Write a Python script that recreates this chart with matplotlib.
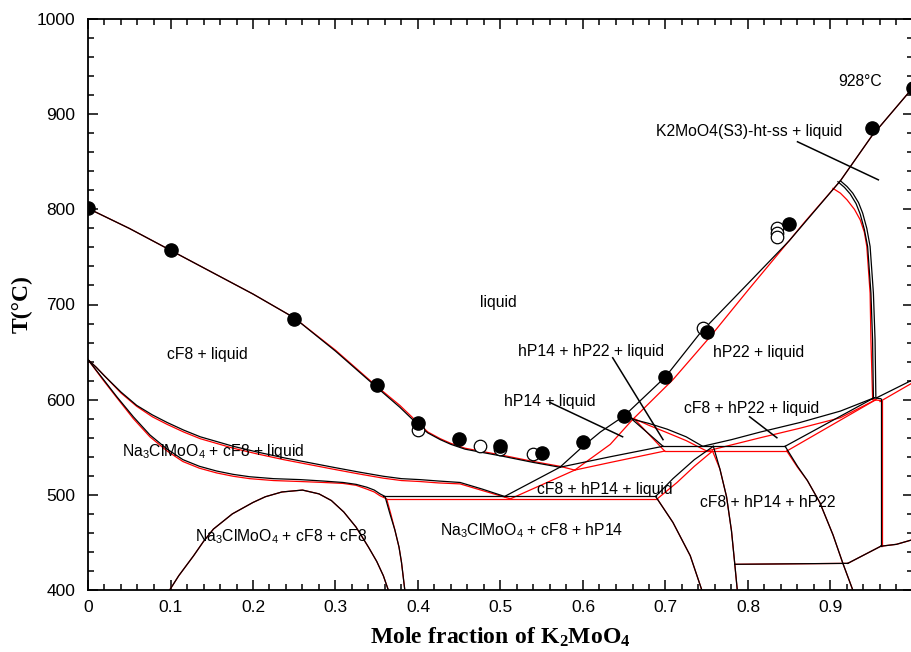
import matplotlib
matplotlib.use("Agg")
import matplotlib.pyplot as plt
from matplotlib.ticker import MultipleLocator, FixedLocator, FixedFormatter

plt.rcParams["font.family"] = ["Liberation Sans", "DejaVu Sans"]
plt.rcParams["mathtext.fontset"] = "custom"
plt.rcParams["mathtext.rm"] = "Liberation Sans"
plt.rcParams["mathtext.it"] = "Liberation Sans:italic"
plt.rcParams["mathtext.bf"] = "Liberation Serif:bold"

# ---- experimental points: mole fraction K2MoO4, temperature (°C) ----
filled_x = [0.0, 0.1, 0.25, 0.35, 0.40, 0.45, 0.50, 0.55, 0.60, 0.65, 0.70, 0.75, 0.85, 0.95, 1.0]
filled_t = [801, 757, 685, 615, 575, 559, 551, 544, 555, 583, 624, 671, 785, 885, 928]
open_x = [0.40, 0.475, 0.50, 0.54, 0.745, 0.835, 0.835, 0.835]
open_t = [568, 551, 548, 543, 675, 780, 775, 771]

# ---- calculated phase boundaries, model 1 (black) ----
blk_liq_cf8 = [(0, 801), (0.05, 780), (0.1, 757), (0.15, 734), (0.2, 711), (0.25, 686), (0.3, 651),
               (0.35, 613), (0.378, 592), (0.39, 582), (0.402, 572), (0.412, 565), (0.427, 558),
               (0.44, 553), (0.457, 548), (0.475, 545), (0.5, 541), (0.54, 534), (0.572, 529)]
blk_upper = [(0, 642), (0.01, 634), (0.02, 625), (0.04, 608), (0.059, 594), (0.078, 584), (0.096, 576),
             (0.116, 568), (0.136, 561), (0.156, 556), (0.176, 551), (0.205, 545), (0.237, 539),
             (0.267, 534), (0.297, 529), (0.328, 524), (0.358, 519.5), (0.38, 517), (0.402, 516),
             (0.425, 514.5), (0.451, 513), (0.478, 506), (0.505, 498.3)]
blk_lower = [(0, 642), (0.018, 622), (0.035, 603), (0.055, 582), (0.075, 563), (0.096, 548),
             (0.115, 537), (0.135, 530), (0.156, 525), (0.176, 521.5), (0.196, 519), (0.225, 517),
             (0.257, 516), (0.285, 514.5), (0.309, 513), (0.325, 511), (0.338, 508), (0.347, 505),
             (0.354, 501), (0.36, 498.3), (0.366, 480), (0.372, 463), (0.377, 445), (0.38, 429),
             (0.384, 400)]
blk_eut = [(0.358, 498.3), (0.688, 498.3)]
blk_eut_liq = [(0.505, 498.3), (0.572, 529)]
blk_liq_hp = [(0.572, 529), (0.6, 551), (0.621, 566), (0.65, 583), (0.7, 624), (0.742, 670),
              (0.8, 722), (0.85, 767), (0.912, 830), (0.95, 877), (1.0, 928)]
blk_hp14_hp22 = [(0.652, 585), (0.662, 579), (0.68, 575), (0.702, 569), (0.725, 561), (0.745, 551)]
blk_hp_tie = [(0.652, 585), (0.697, 551)]
blk_cf8_hp14_liq = [(0.572, 529), (0.633, 540), (0.697, 551)]
blk_perit = [(0.697, 551), (0.845, 551)]
blk_hp14_low = [(0.688, 498.3), (0.709, 517), (0.735, 537), (0.758, 551)]
blk_hp14_hp22_low = [(0.758, 551), (0.766, 527), (0.774, 498), (0.78, 462), (0.784, 427), (0.787, 400)]
blk_hp22_up = [(0.745, 551), (0.78, 558), (0.815, 566), (0.863, 576), (0.912, 588), (0.953, 602)]
blk_hp22_low = [(0.845, 551), (0.953, 602)]
blk_ss_right = [(0.956, 602), (1.0, 621)]
blk_ss_a = [(0.912, 830), (0.92, 824), (0.927, 817), (0.934, 807), (0.939, 796), (0.944, 780),
            (0.948, 761), (0.952, 712), (0.954, 663), (0.955, 602)]
blk_ss_b = [(0.909, 829), (0.917, 823), (0.924, 816), (0.931, 806), (0.936, 795), (0.941, 779),
            (0.945, 761), (0.949, 712), (0.951, 663), (0.952, 602)]
blk_ss_join = [(0.952, 602), (0.961, 601)]
blk_ss_vert = [(0.961, 601), (0.961, 446)]
blk_cf8_hp22 = [(0.845, 551), (0.86, 530), (0.872, 515), (0.887, 492), (0.903, 458), (0.915, 428), (0.927, 400)]
blk_hp22_ss_low = [(0.961, 446), (0.98, 448), (1.0, 453)]
blk_hp22_diag = [(0.961, 446), (0.921, 428)]
blk_low_iso = [(0.784, 427), (0.921, 428)]
blk_eut_right = [(0.688, 498.3), (0.709, 471), (0.73, 436), (0.744, 400)]
gap_dome = [(0.099, 400), (0.11, 415), (0.128, 436), (0.14, 451), (0.152, 464), (0.175, 480),
            (0.2, 492), (0.215, 498), (0.235, 503), (0.26, 505), (0.28, 501), (0.295, 494),
            (0.31, 482), (0.325, 466), (0.34, 445), (0.35, 430), (0.358, 415), (0.364, 400)]

# ---- calculated phase boundaries, model 2 (red) ----
red_liq_cf8 = [(0, 801), (0.05, 780), (0.1, 757), (0.15, 734), (0.2, 711), (0.25, 686), (0.3, 652),
               (0.35, 614), (0.378, 594), (0.39, 584), (0.402, 574), (0.412, 566), (0.427, 559),
               (0.44, 554), (0.457, 549), (0.475, 546), (0.5, 542), (0.54, 535), (0.572, 530),
               (0.59, 526)]
red_upper = [(0, 642), (0.01, 634), (0.02, 625), (0.04, 607), (0.059, 593), (0.078, 582), (0.096, 574),
             (0.116, 566), (0.136, 559), (0.156, 554), (0.176, 549), (0.205, 543), (0.237, 537),
             (0.267, 532), (0.297, 527), (0.328, 522), (0.358, 517.5), (0.38, 515), (0.402, 514),
             (0.425, 512.5), (0.451, 511.5), (0.48, 504), (0.512, 495.8)]
red_lower = [(0, 642), (0.018, 621), (0.035, 602), (0.055, 580), (0.075, 561), (0.096, 546),
             (0.115, 535), (0.135, 528), (0.156, 523), (0.176, 519.5), (0.196, 517), (0.225, 515),
             (0.257, 514), (0.285, 513), (0.309, 512), (0.325, 510), (0.338, 506), (0.347, 503),
             (0.354, 499), (0.362, 495.8), (0.367, 480), (0.372, 463), (0.377, 445), (0.38, 429),
             (0.384, 400)]
red_eut = [(0.362, 495.8), (0.69, 495.8)]
red_eut_liq = [(0.512, 495.8), (0.59, 526)]
red_liq_hp = [(0.59, 526), (0.633, 553), (0.66, 579), (0.709, 621), (0.754, 666), (0.8, 715),
              (0.87, 788), (0.912, 830), (0.95, 877), (1.0, 928)]
red_hp14_hp22 = [(0.662, 580), (0.68, 573), (0.70, 566), (0.725, 557), (0.75, 546)]
red_hp_tie = [(0.662, 580), (0.699, 546)]
red_cf8_hp14_liq = [(0.59, 526), (0.633, 534), (0.699, 546)]
red_perit = [(0.699, 546), (0.847, 546)]
red_hp14_low = [(0.69, 495.8), (0.714, 513), (0.735, 530), (0.757, 546)]
red_hp14_hp22_low = [(0.757, 546), (0.766, 527), (0.774, 498), (0.78, 462), (0.784, 427), (0.787, 400)]
red_hp22_up = [(0.75, 546), (0.815, 560), (0.863, 570), (0.912, 581), (0.955, 600)]
red_hp22_low = [(0.847, 546), (0.955, 600)]
red_ss_right = [(0.96, 598), (1.0, 618)]
red_ss = [(0.903, 822), (0.912, 817), (0.92, 810), (0.929, 800), (0.936, 789), (0.941, 776),
          (0.944, 761), (0.948, 712), (0.949, 663), (0.951, 602)]
red_ss_join = [(0.951, 600), (0.962, 599)]
red_ss_vert = [(0.962, 599), (0.962, 446)]
red_cf8_hp22 = [(0.847, 546), (0.86, 529), (0.872, 515), (0.887, 492), (0.903, 458), (0.915, 428), (0.927, 400)]
red_eut_right = [(0.69, 495.8), (0.709, 471), (0.73, 436), (0.744, 400)]

red_curves = [red_liq_cf8, red_upper, red_lower, red_eut, red_eut_liq, red_liq_hp, red_hp14_hp22,
              red_hp_tie, red_cf8_hp14_liq, red_perit, red_hp14_low, red_hp14_hp22_low, red_hp22_up,
              red_hp22_low, red_ss_right, red_ss, red_ss_join, red_ss_vert, red_cf8_hp22,
              red_eut_right, gap_dome, blk_hp22_ss_low, blk_hp22_diag, blk_low_iso]
black_curves = [blk_liq_cf8, blk_upper, blk_lower, blk_eut, blk_eut_liq, blk_liq_hp, blk_hp14_hp22,
                blk_hp_tie, blk_cf8_hp14_liq, blk_perit, blk_hp14_low, blk_hp14_hp22_low, blk_hp22_up,
                blk_hp22_low, blk_ss_right, blk_ss_a, blk_ss_b, blk_ss_join, blk_ss_vert, blk_cf8_hp22,
                blk_hp22_ss_low, blk_hp22_diag, blk_low_iso, blk_eut_right, gap_dome]

# ---- region labels and leader lines ----
region_labels = [
    ("liquid", 0.497, 702),
    ("cF8 + liquid", 0.145, 647),
    ("Na$_3$ClMoO$_4$ + cF8 + liquid", 0.152, 546),
    ("Na$_3$ClMoO$_4$ + cF8 + cF8", 0.234, 456),
    ("Na$_3$ClMoO$_4$ + cF8 + hP14", 0.538, 462),
    ("cF8 + hP14 + liquid", 0.626, 506),
    ("hP14 + liquid", 0.56, 598),
    ("hP14 + hP22 + liquid", 0.61, 651),
    ("hP22 + liquid", 0.813, 650),
    ("cF8 + hP22 + liquid", 0.804, 591),
    ("cF8 + hP14 + hP22", 0.824, 492),
    ("K2MoO4(S3)-ht-ss + liquid", 0.802, 882),
    ("928°C", 0.936, 934),
]
leaders = [
    [(0.86, 871), (0.958, 831)],
    [(0.636, 644), (0.697, 558)],
    [(0.56, 597), (0.648, 561)],
    [(0.802, 582), (0.835, 560)],
]

xtick_vals = [0.0, 0.1, 0.2, 0.3, 0.4, 0.5, 0.6, 0.7, 0.8, 0.9]
xtick_labels = ["0", "0.1", "0.2", "0.3", "0.4", "0.5", "0.6", "0.7", "0.8", "0.9"]
ytick_vals = [400, 500, 600, 700, 800, 900, 1000]

fig = plt.figure(figsize=(9.12, 6.52), dpi=100)
ax = fig.add_axes([88 / 912, 62 / 652, 825 / 912, 571 / 652])

for c in red_curves:
    xs, ts = zip(*c)
    ax.plot(xs, ts, color="#ff0000", lw=0.9, solid_joinstyle="round", zorder=2)
for c in black_curves:
    xs, ts = zip(*c)
    ax.plot(xs, ts, color="black", lw=0.9, solid_joinstyle="round", zorder=3)

for seg in leaders:
    xs, ts = zip(*seg)
    ax.plot(xs, ts, color="black", lw=1.1, zorder=3)

ax.plot(open_x, open_t, "o", ms=9, mfc="white", mec="black", mew=0.9, zorder=4)
ax.plot(filled_x, filled_t, "o", ms=9.5, mfc="black", mec="black", zorder=5)

for txt, x, t in region_labels:
    ax.text(x, t, txt, ha="center", va="center", fontsize=11.3, zorder=6)

ax.set_xlim(0, 1)
ax.set_ylim(400, 1000)
ax.xaxis.set_major_locator(FixedLocator(xtick_vals))
ax.xaxis.set_major_formatter(FixedFormatter(xtick_labels))
ax.xaxis.set_minor_locator(MultipleLocator(0.02))
ax.yaxis.set_major_locator(FixedLocator(ytick_vals))
ax.yaxis.set_minor_locator(MultipleLocator(20))
ax.tick_params(which="both", direction="in", top=True, right=True, width=1.1, labelsize=12.5)
ax.tick_params(which="major", length=7)
ax.tick_params(which="minor", length=4)
ax.tick_params(axis="x", pad=7)
ax.tick_params(axis="y", pad=9)
for s in ax.spines.values():
    s.set_linewidth(1.3)

ax.set_xlabel(r"$\mathbf{Mole\ fraction\ of\ K_2MoO_4}$", fontsize=17)
ax.xaxis.set_label_coords(0.5, -0.062)
ax.set_ylabel("T(°C)", fontsize=17, fontfamily="Liberation Serif", fontweight="bold")
ax.yaxis.set_label_coords(-0.067, 0.5)

fig.savefig("out.png", dpi=100)
